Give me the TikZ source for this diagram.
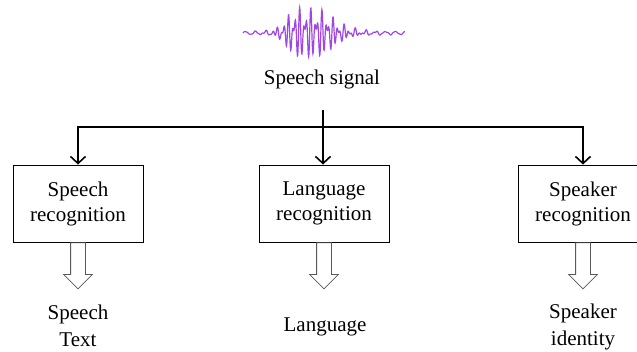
\documentclass[tikz,border=0pt]{standalone}
\usepackage{fontspec}
\setmainfont{Liberation Serif}
\usepackage{tikz}
\usetikzlibrary{arrows,arrows.meta,shapes.arrows,calc}
\definecolor{wave}{RGB}{160,70,230}
\tikzset{
  task/.style = {draw, line width = 0.9pt, minimum width = 130pt, minimum height = 77pt, align = center, inner sep = 0pt},
  hollow/.style = {draw = gray!70!black, line width = 0.8pt, single arrow, shape border rotate = 270, minimum height = 46pt, minimum width = 28pt, single arrow head extend = 7pt, inner sep = 7pt, anchor = tail},
  result/.style = {align = center, font = \fontsize{21}{27}\selectfont}
}

\begin{document}
\begin{tikzpicture}[x = 1pt, y = -1pt, font = \fontsize{21}{25}\selectfont,
  >={Straight Barb[length = 7pt, width = 15pt]},
  declare function = {env(\t) = (\t < 60) ? 27/(1+((\t-60)/18)^4) : 27/(1+((\t-60)/33)^4);
    wav(\t) = env(\t)*(0.55*sin(65*\t) + 0.45*sin(97*\t)) + 1.5*sin(36*\t);}]
  \useasboundingbox (0,0) rectangle (637,352);
  \draw[wave, line width = 1.2pt] plot[domain = 0:162, samples = 650] ({243+\x}, {33 - wav(\x)});
  \node (sig) at (322,79) {Speech signal};
  \coordinate (top) at (323,110);
  \coordinate (split) at (323,127);
  \node[task] (sr) at (78,203.5) {Speech\\recognition};
  \node[task] (lr) at (324,203.5) {Language\\recognition};
  \node[task] (spk) at (583,203.5) {Speaker\\recognition};
  \node[hollow] (a1) at (sr.south) {};
  \node[hollow] (a2) at (lr.south) {};
  \node[hollow] (a3) at (spk.south) {};
  \node[result] (txt) at (78,326) {Speech\\Text};
  \node[result] (lang) at (325,327) {Language};
  \node[result] (who) at (583,327) {Speaker\\identity};
  \draw[line width = 1.6pt] (top) -- (split);
  \draw[->, line width = 1.6pt] (split) -| (sr);
  \draw[->, line width = 1.6pt] (split) -- (split |- lr.north);
  \draw[->, line width = 1.6pt] (split) -| (spk);
\end{tikzpicture}
\end{document}
